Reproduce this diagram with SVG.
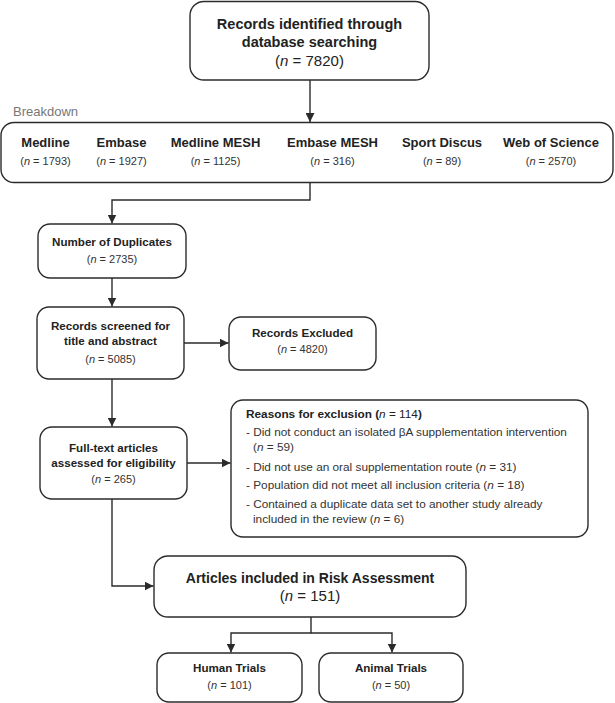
<svg xmlns="http://www.w3.org/2000/svg" width="615" height="703" viewBox="0 0 615 703">
<defs>
<marker id="arr" viewBox="0 0 10 10" refX="10" refY="5" markerWidth="9" markerHeight="9" markerUnits="userSpaceOnUse" orient="auto">
<path d="M0,0 L10,5 L0,10 z" fill="#2b2b2b"/>
</marker>
<style>
.box{fill:#fff;stroke:#2b2b2b;stroke-width:1.4}
.con{fill:none;stroke:#2b2b2b;stroke-width:1.4}
text{font-family:"Liberation Sans",Arial,sans-serif;fill:#222}
.t{font-weight:bold;font-size:11.6px;text-anchor:middle}
.n{font-size:11px;text-anchor:middle;fill:#333}
.bt{font-weight:bold;font-size:13px;text-anchor:middle}
.r{font-size:11.8px;fill:#333}
.i{font-style:italic}
</style>
</defs>
<rect width="615" height="703" fill="#fff"/>

<g id="connectors">
<path class="con" d="M310,80 V122" marker-end="url(#arr)"/>
<path class="con" d="M310,182.5 V200 H112 V223.5" marker-end="url(#arr)"/>
<path class="con" d="M112,278 V306.5" marker-end="url(#arr)"/>
<path class="con" d="M184,343 H228.5" marker-end="url(#arr)"/>
<path class="con" d="M112,379 V426.5" marker-end="url(#arr)"/>
<path class="con" d="M187,463 H230.5" marker-end="url(#arr)"/>
<path class="con" d="M112,499 V586 H153.5" marker-end="url(#arr)"/>
<path class="con" d="M311,617 V633 H231 V652.5" marker-end="url(#arr)"/>
<path class="con" d="M311,633 H392 V652.5" marker-end="url(#arr)"/>
</g>

<g id="identified">
<rect class="box" x="190" y="1.5" width="239" height="78.5" rx="14"/>
<text x="309.5" y="29" style="font-weight:bold;font-size:14.5px;text-anchor:middle">Records identified through</text>
<text x="309.5" y="47" style="font-weight:bold;font-size:14.5px;text-anchor:middle">database searching</text>
<text x="309.5" y="66" style="font-size:15px;text-anchor:middle">(<tspan class="i">n</tspan> = 7820)</text>
</g>

<g id="breakdown">
<text x="13" y="116" style="font-size:13px;fill:#777">Breakdown</text>
<rect class="box" x="1" y="122.5" width="612" height="60" rx="13"/>
<text class="bt" x="45.5" y="147">Medline</text>
<text class="n" x="45.5" y="165">(<tspan class="i">n</tspan> = 1793)</text>
<text class="bt" x="121.5" y="147">Embase</text>
<text class="n" x="121.5" y="165">(<tspan class="i">n</tspan> = 1927)</text>
<text class="bt" x="215.5" y="147">Medline MESH</text>
<text class="n" x="215.5" y="165">(<tspan class="i">n</tspan> = 1125)</text>
<text class="bt" x="332.5" y="147">Embase MESH</text>
<text class="n" x="332.5" y="165">(<tspan class="i">n</tspan> = 316)</text>
<text class="bt" x="442" y="147">Sport Discus</text>
<text class="n" x="442" y="165">(<tspan class="i">n</tspan> = 89)</text>
<text class="bt" x="551" y="147">Web of Science</text>
<text class="n" x="551" y="165">(<tspan class="i">n</tspan> = 2570)</text>
</g>

<g id="duplicates">
<rect class="box" x="38" y="224" width="148" height="54" rx="12"/>
<text class="t" x="112" y="246">Number of Duplicates</text>
<text class="n" x="112" y="263">(<tspan class="i">n</tspan> = 2735)</text>
</g>

<g id="screened">
<rect class="box" x="37" y="307" width="147" height="72" rx="12"/>
<text class="t" x="110.5" y="330">Records screened for</text>
<text class="t" x="110.5" y="345">title and abstract</text>
<text class="n" x="110.5" y="363">(<tspan class="i">n</tspan> = 5085)</text>
</g>

<g id="excluded">
<rect class="box" x="229" y="317" width="147" height="53" rx="12"/>
<text class="t" x="302.5" y="337">Records Excluded</text>
<text class="n" x="302.5" y="353">(<tspan class="i">n</tspan> = 4820)</text>
</g>

<g id="fulltext">
<rect class="box" x="40" y="427" width="147" height="72" rx="12"/>
<text class="t" x="113.5" y="452">Full-text articles</text>
<text class="t" x="113.5" y="467">assessed for eligibility</text>
<text class="n" x="113.5" y="483">(<tspan class="i">n</tspan> = 265)</text>
</g>

<g id="reasons">
<rect class="box" x="231" y="400" width="357" height="137" rx="12"/>
<text x="246" y="418" style="font-weight:bold;font-size:11.8px">Reasons for exclusion (<tspan class="i" style="font-weight:normal">n</tspan><tspan style="font-weight:normal"> = 114</tspan>)</text>
<text class="r" x="246" y="436">- Did not conduct an isolated βA supplementation intervention</text>
<text class="r" x="253" y="451">(<tspan class="i">n</tspan> = 59)</text>
<text class="r" x="246" y="471">- Did not use an oral supplementation route (<tspan class="i">n</tspan> = 31)</text>
<text class="r" x="246" y="489">- Population did not meet all inclusion criteria (<tspan class="i">n</tspan> = 18)</text>
<text class="r" x="246" y="508">- Contained a duplicate data set to another study already</text>
<text class="r" x="253" y="523">included in the review (<tspan class="i">n</tspan> = 6)</text>
</g>

<g id="included">
<rect class="box" x="154" y="556" width="312" height="61" rx="14"/>
<text x="310" y="583" style="font-weight:bold;font-size:14px;text-anchor:middle">Articles included in Risk Assessment</text>
<text x="310" y="601" style="font-size:15px;text-anchor:middle">(<tspan class="i">n</tspan> = 151)</text>
</g>

<g id="human">
<rect class="box" x="157" y="653" width="145" height="49" rx="12"/>
<text class="t" x="229.5" y="672">Human Trials</text>
<text class="n" x="229.5" y="689">(<tspan class="i">n</tspan> = 101)</text>
</g>

<g id="animal">
<rect class="box" x="319" y="653" width="144" height="49" rx="12"/>
<text class="t" x="391" y="672">Animal Trials</text>
<text class="n" x="391" y="689">(<tspan class="i">n</tspan> = 50)</text>
</g>
</svg>
